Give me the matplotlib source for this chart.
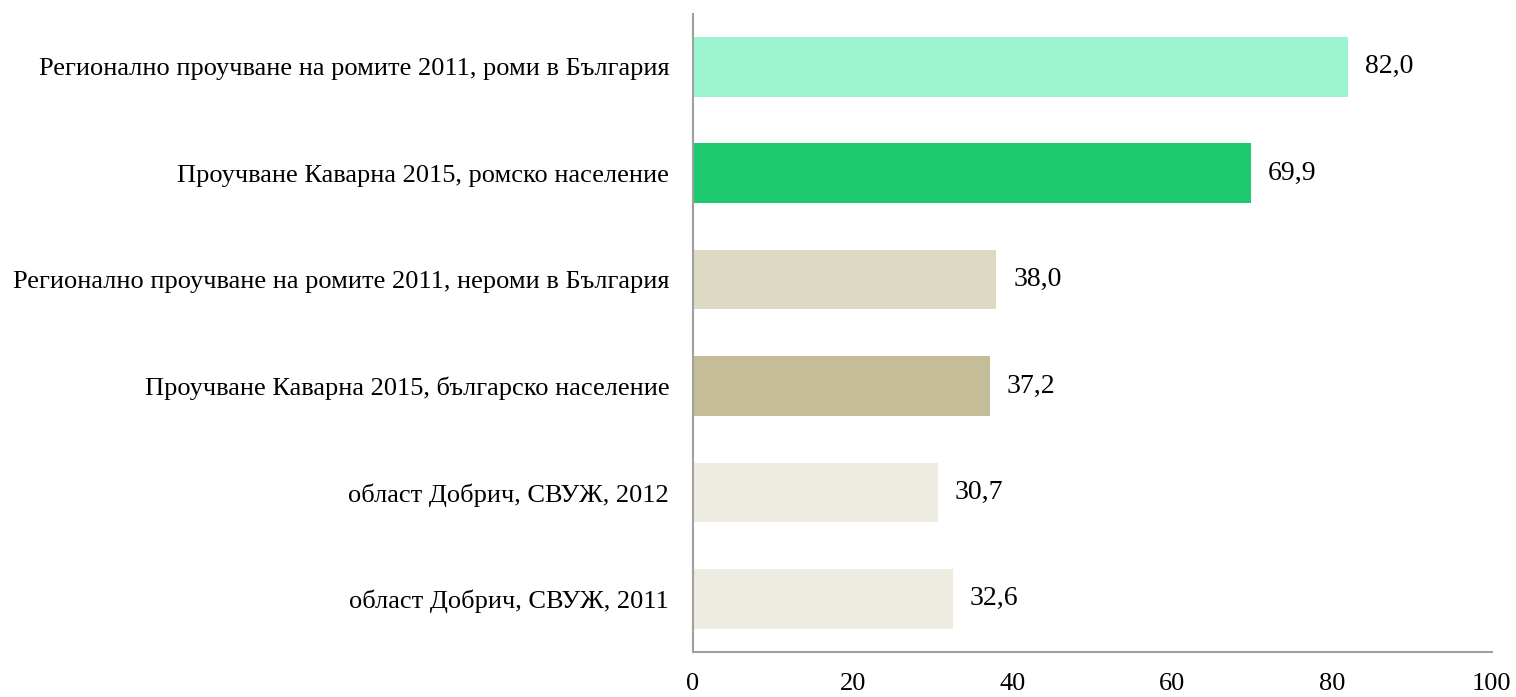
import matplotlib.pyplot as plt

categories = [
    "Регионално проучване на ромите 2011, роми в България",
    "Проучване Каварна 2015, ромско население",
    "Регионално проучване на ромите 2011, нероми в България",
    "Проучване Каварна 2015, българско население",
    "област Добрич, СВУЖ, 2012",
    "област Добрич, СВУЖ, 2011",
]
values = [82.0, 69.9, 38.0, 37.2, 30.7, 32.6]
colors = ["#99F4CF", "#1FC96F", "#DDD9C3", "#C4BD97", "#EEECE1", "#EEECE1"]
xticks = [0, 20, 40, 60, 80, 100]

plt.rcParams['font.family'] = ['Liberation Serif', 'DejaVu Serif']

fig = plt.figure(figsize=(15.16, 6.97), dpi=100)
ax = fig.add_axes([0.457, 0.0646, 0.527, 0.916])

pos = list(range(len(categories)))[::-1]
bars = ax.barh(pos, values, height=0.56, color=colors)
ax.bar_label(bars, labels=[("%.1f" % v).replace(".", ",") for v in values],
             padding=12, fontsize=20)

ax.set_yticks(pos)
ax.set_yticklabels(categories, fontsize=19)
ax.set_ylim(-0.5, len(categories) - 0.5)
ax.set_xlim(0, 100)
ax.set_xticks(xticks)
ax.set_xticklabels([str(t) for t in xticks], fontsize=19)
ax.tick_params(axis='both', length=0)
ax.tick_params(axis='y', pad=17)
ax.tick_params(axis='x', pad=15)

for s in ['top', 'right']:
    ax.spines[s].set_visible(False)
for s in ['left', 'bottom']:
    ax.spines[s].set_color('#A0A0A0')
    ax.spines[s].set_linewidth(1.5)

fig.savefig('out.png', dpi=100)
